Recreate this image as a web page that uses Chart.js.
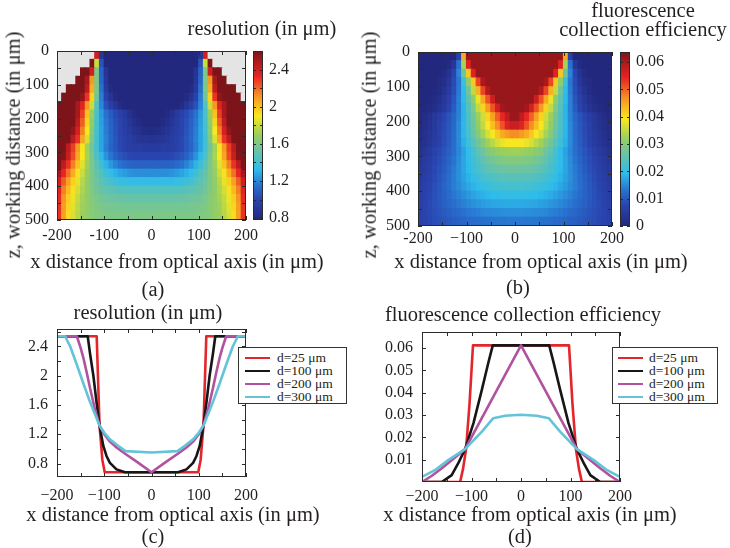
<!DOCTYPE html>
<html>
<head>
<meta charset="utf-8">
<script src="https://cdn.jsdelivr.net/npm/chart.js@4.4.1/dist/chart.umd.min.js"></script>
<style>
  body { margin: 0; background: #fff; }
  #fig { position: relative; width: 730px; height: 548px; overflow: hidden;
         font-family: "Liberation Serif", "DejaVu Serif", serif; color: #231f20; }
  #fig canvas { position: absolute; }
  .t { position: absolute; white-space: nowrap; font-size: 20.5px; line-height: 1;
       transform: translate(-50%, -50%); }
  .rot { transform: translate(-50%, -50%) rotate(-90deg); }
  .legend { position: absolute; border: 1px solid #333; background: #fff; box-sizing: border-box; }
  .legend .row { position: absolute; left: 0; height: 13px; font-size: 13.5px; line-height: 13px; white-space: nowrap; }
  .legend .swatch { position: absolute; top: 6px; height: 0; border-top: 2px solid; }
</style>
</head>
<body>
<div id="fig">
  <canvas id="heatA" width="300" height="260" style="left:0;top:0"></canvas>
  <canvas id="cbarA" width="90" height="260" style="left:253px;top:0"></canvas>
  <canvas id="heatB" width="300" height="260" style="left:365px;top:0"></canvas>
  <canvas id="cbarB" width="100" height="260" style="left:620px;top:0"></canvas>
  <canvas id="lineC" width="300" height="230" style="left:0;top:290px"></canvas>
  <canvas id="lineD" width="300" height="230" style="left:365px;top:290px"></canvas>

  <div class="t" style="left:262px;top:28px">resolution (in μm)</div>
  <div class="t" style="left:643px;top:10px">fluorescence</div>
  <div class="t" style="left:643px;top:29px">collection efficiency</div>
  <div class="t rot" style="left:13px;top:145px">z, working distance (in μm)</div>
  <div class="t rot" style="left:369px;top:145px">z, working distance (in μm)</div>
  <div class="t" style="left:177px;top:261px">x distance from optical axis (in μm)</div>
  <div class="t" style="left:541px;top:261px">x distance from optical axis (in μm)</div>
  <div class="t" style="left:153px;top:289px">(a)</div>
  <div class="t" style="left:518px;top:287px">(b)</div>

  <div class="t" style="left:148px;top:312px">resolution (in μm)</div>
  <div class="t" style="left:523px;top:314px">fluorescence collection efficiency</div>
  <div class="t" style="left:173px;top:514px">x distance from optical axis (in μm)</div>
  <div class="t" style="left:530px;top:514px">x distance from optical axis (in μm)</div>
  <div class="t" style="left:153px;top:536px">(c)</div>
  <div class="t" style="left:520px;top:536px">(d)</div>

  <div id="legendC" class="legend" style="left:238px;top:347px;width:109px;height:57px"></div>
  <div id="legendD" class="legend" style="left:612px;top:347px;width:106px;height:57px"></div>
</div>

<script>
// ---- heat maps: cell centres in x, rows in z (a) and (b)
const heatX = [-195, -185, -175, -165, -155, -145, -135, -125, -115, -105, -95, -85, -75, -65, -55, -45, -35, -25, -15, -5,
               5, 15, 25, 35, 45, 55, 65, 75, 85, 95, 105, 115, 125, 135, 145, 155, 165, 175, 185, 195];
const heatZ = [12.5, 37.5, 62.5, 87.5, 112.5, 137.5, 162.5, 187.5, 212.5, 237.5,
               262.5, 287.5, 312.5, 337.5, 362.5, 387.5, 412.5, 437.5, 462.5, 487.5];

// resolution in µm (null = outside the field, drawn grey)
const resolution = [
  [null, null, null, null, null, null, null, null, 2.4, 0.9, 0.68, 0.68, 0.68, 0.68, 0.68, 0.68, 0.68, 0.68, 0.68, 0.68,
   0.68, 0.68, 0.68, 0.68, 0.68, 0.68, 0.68, 0.68, 0.68, 0.68, 0.9, 2.4, null, null, null, null, null, null, null, null],
  [null, null, null, null, null, null, null, 2.6, 1.8, 1.05, 0.75, 0.68, 0.68, 0.68, 0.68, 0.68, 0.68, 0.68, 0.68, 0.68,
   0.68, 0.68, 0.68, 0.68, 0.68, 0.68, 0.68, 0.68, 0.68, 0.75, 1.05, 1.8, 2.6, null, null, null, null, null, null, null],
  [null, null, null, null, null, 2.6, 2.6, 2.4, 1.6, 1.1, 0.88, 0.74, 0.68, 0.68, 0.68, 0.68, 0.68, 0.68, 0.68, 0.68,
   0.68, 0.68, 0.68, 0.68, 0.68, 0.68, 0.68, 0.68, 0.74, 0.88, 1.1, 1.6, 2.4, 2.6, 2.6, null, null, null, null, null],
  [null, null, null, null, 2.6, 2.6, 2.5, 2.1, 1.6, 1.12, 0.9, 0.78, 0.71, 0.68, 0.68, 0.68, 0.68, 0.68, 0.68, 0.68,
   0.68, 0.68, 0.68, 0.68, 0.68, 0.68, 0.68, 0.71, 0.78, 0.9, 1.12, 1.6, 2.1, 2.5, 2.6, 2.6, null, null, null, null],
  [null, null, 2.6, 2.6, 2.6, 2.6, 2.45, 2.05, 1.6, 1.15, 0.93, 0.8, 0.73, 0.69, 0.68, 0.68, 0.68, 0.68, 0.68, 0.68,
   0.68, 0.68, 0.68, 0.68, 0.68, 0.68, 0.69, 0.73, 0.8, 0.93, 1.15, 1.6, 2.05, 2.45, 2.6, 2.6, 2.6, 2.6, null, null],
  [null, 2.6, 2.6, 2.6, 2.6, 2.55, 2.3, 1.95, 1.55, 1.18, 0.98, 0.88, 0.8, 0.74, 0.7, 0.68, 0.68, 0.68, 0.68, 0.68,
   0.68, 0.68, 0.68, 0.68, 0.68, 0.7, 0.74, 0.8, 0.88, 0.98, 1.18, 1.55, 1.95, 2.3, 2.55, 2.6, 2.6, 2.6, 2.6, null],
  [2.6, 2.6, 2.6, 2.6, 2.5, 2.35, 2.1, 1.8, 1.45, 1.2, 1.05, 0.96, 0.89, 0.82, 0.77, 0.72, 0.69, 0.68, 0.68, 0.68,
   0.68, 0.68, 0.68, 0.69, 0.72, 0.77, 0.82, 0.89, 0.96, 1.05, 1.2, 1.45, 1.8, 2.1, 2.35, 2.5, 2.6, 2.6, 2.6, 2.6],
  [2.6, 2.6, 2.6, 2.6, 2.5, 2.28, 2.0, 1.7, 1.43, 1.25, 1.15, 1.08, 1.02, 0.97, 0.92, 0.86, 0.8, 0.75, 0.71, 0.68,
   0.68, 0.71, 0.75, 0.8, 0.86, 0.92, 0.97, 1.02, 1.08, 1.15, 1.25, 1.43, 1.7, 2.0, 2.28, 2.5, 2.6, 2.6, 2.6, 2.6],
  [2.6, 2.6, 2.6, 2.6, 2.45, 2.22, 1.95, 1.66, 1.42, 1.26, 1.17, 1.1, 1.04, 0.99, 0.94, 0.89, 0.84, 0.8, 0.76, 0.74,
   0.74, 0.76, 0.8, 0.84, 0.89, 0.94, 0.99, 1.04, 1.1, 1.17, 1.26, 1.42, 1.66, 1.95, 2.22, 2.45, 2.6, 2.6, 2.6, 2.6],
  [2.6, 2.6, 2.6, 2.55, 2.38, 2.15, 1.9, 1.63, 1.41, 1.27, 1.18, 1.11, 1.05, 1.0, 0.96, 0.92, 0.88, 0.85, 0.82, 0.81,
   0.81, 0.82, 0.85, 0.88, 0.92, 0.96, 1.0, 1.05, 1.11, 1.18, 1.27, 1.41, 1.63, 1.9, 2.15, 2.38, 2.55, 2.6, 2.6, 2.6],
  [2.6, 2.6, 2.6, 2.45, 2.3, 2.07, 1.83, 1.6, 1.4, 1.27, 1.19, 1.12, 1.06, 1.01, 0.97, 0.94, 0.91, 0.89, 0.88, 0.87,
   0.87, 0.88, 0.89, 0.91, 0.94, 0.97, 1.01, 1.06, 1.12, 1.19, 1.27, 1.4, 1.6, 1.83, 2.07, 2.3, 2.45, 2.6, 2.6, 2.6],
  [2.6, 2.6, 2.45, 2.28, 2.1, 1.91, 1.72, 1.56, 1.4, 1.27, 1.18, 1.11, 1.06, 1.01, 0.97, 0.95, 0.94, 0.94, 0.93, 0.93,
   0.93, 0.93, 0.94, 0.94, 0.95, 0.97, 1.01, 1.06, 1.11, 1.18, 1.27, 1.4, 1.56, 1.72, 1.91, 2.1, 2.28, 2.45, 2.6, 2.6],
  [2.6, 2.58, 2.42, 2.25, 2.07, 1.9, 1.73, 1.58, 1.44, 1.32, 1.23, 1.16, 1.1, 1.06, 1.03, 1.01, 1.0, 1.0, 1.0, 1.0,
   1.0, 1.0, 1.0, 1.0, 1.01, 1.03, 1.06, 1.1, 1.16, 1.23, 1.32, 1.44, 1.58, 1.73, 1.9, 2.07, 2.25, 2.42, 2.58, 2.6],
  [2.6, 2.45, 2.3, 2.15, 2.0, 1.85, 1.71, 1.59, 1.48, 1.39, 1.31, 1.24, 1.19, 1.15, 1.13, 1.11, 1.1, 1.1, 1.1, 1.1,
   1.1, 1.1, 1.1, 1.1, 1.11, 1.13, 1.15, 1.19, 1.24, 1.31, 1.39, 1.48, 1.59, 1.71, 1.85, 2.0, 2.15, 2.3, 2.45, 2.6],
  [2.5, 2.33, 2.18, 2.05, 1.92, 1.8, 1.69, 1.6, 1.52, 1.45, 1.39, 1.34, 1.3, 1.27, 1.25, 1.23, 1.22, 1.22, 1.22, 1.22,
   1.22, 1.22, 1.22, 1.22, 1.23, 1.25, 1.27, 1.3, 1.34, 1.39, 1.45, 1.52, 1.6, 1.69, 1.8, 1.92, 2.05, 2.18, 2.33, 2.5],
  [2.4, 2.22, 2.08, 1.96, 1.86, 1.76, 1.67, 1.6, 1.54, 1.49, 1.45, 1.42, 1.39, 1.37, 1.36, 1.35, 1.35, 1.35, 1.35, 1.35,
   1.35, 1.35, 1.35, 1.35, 1.35, 1.36, 1.37, 1.39, 1.42, 1.45, 1.49, 1.54, 1.6, 1.67, 1.76, 1.86, 1.96, 2.08, 2.22, 2.4],
  [2.35, 2.15, 2.02, 1.92, 1.82, 1.74, 1.67, 1.61, 1.56, 1.52, 1.5, 1.48, 1.47, 1.46, 1.45, 1.45, 1.45, 1.45, 1.45, 1.45,
   1.45, 1.45, 1.45, 1.45, 1.45, 1.45, 1.46, 1.47, 1.48, 1.5, 1.52, 1.56, 1.61, 1.67, 1.74, 1.82, 1.92, 2.02, 2.15, 2.35],
  [2.32, 2.11, 1.97, 1.87, 1.79, 1.72, 1.67, 1.63, 1.59, 1.56, 1.55, 1.54, 1.53, 1.53, 1.52, 1.52, 1.52, 1.52, 1.52, 1.52,
   1.52, 1.52, 1.52, 1.52, 1.52, 1.52, 1.53, 1.53, 1.54, 1.55, 1.56, 1.59, 1.63, 1.67, 1.72, 1.79, 1.87, 1.97, 2.11, 2.32],
  [2.3, 2.09, 1.95, 1.85, 1.77, 1.71, 1.67, 1.64, 1.61, 1.59, 1.58, 1.58, 1.57, 1.57, 1.57, 1.57, 1.57, 1.57, 1.57, 1.57,
   1.57, 1.57, 1.57, 1.57, 1.57, 1.57, 1.57, 1.57, 1.58, 1.58, 1.59, 1.61, 1.64, 1.67, 1.71, 1.77, 1.85, 1.95, 2.09, 2.3],
  [2.3, 2.08, 1.93, 1.83, 1.76, 1.7, 1.67, 1.64, 1.62, 1.61, 1.6, 1.6, 1.6, 1.6, 1.6, 1.6, 1.6, 1.6, 1.6, 1.6,
   1.6, 1.6, 1.6, 1.6, 1.6, 1.6, 1.6, 1.6, 1.6, 1.6, 1.61, 1.62, 1.64, 1.67, 1.7, 1.76, 1.83, 1.93, 2.08, 2.3]
];

// fluorescence collection efficiency
const efficiency = [
  [0, 0, 0, 0, 0, 0, 0, 0, 0.007, 0.045, 0.0615, 0.0615, 0.0615, 0.0615, 0.0615, 0.0615, 0.0615, 0.0615, 0.0615, 0.0615,
   0.0615, 0.0615, 0.0615, 0.0615, 0.0615, 0.0615, 0.0615, 0.0615, 0.0615, 0.0615, 0.045, 0.007, 0, 0, 0, 0, 0, 0, 0, 0],
  [0, 0, 0, 0, 0, 0, 0.001, 0.004, 0.013, 0.033, 0.055, 0.0615, 0.0615, 0.0615, 0.0615, 0.0615, 0.0615, 0.0615, 0.0615, 0.0615,
   0.0615, 0.0615, 0.0615, 0.0615, 0.0615, 0.0615, 0.0615, 0.0615, 0.0615, 0.055, 0.033, 0.013, 0.004, 0.001, 0, 0, 0, 0, 0, 0],
  [0, 0, 0, 0, 0, 0.001, 0.003, 0.0075, 0.0145, 0.027, 0.042, 0.055, 0.0615, 0.0615, 0.0615, 0.0615, 0.0615, 0.0615, 0.0615, 0.0615,
   0.0615, 0.0615, 0.0615, 0.0615, 0.0615, 0.0615, 0.0615, 0.0615, 0.055, 0.042, 0.027, 0.0145, 0.0075, 0.003, 0.001, 0, 0, 0, 0, 0],
  [0, 0, 0, 0, 0.0007, 0.002, 0.0045, 0.0085, 0.0135, 0.021, 0.031, 0.042, 0.052, 0.06, 0.0615, 0.0615, 0.0615, 0.0615, 0.0615, 0.0615,
   0.0615, 0.0615, 0.0615, 0.0615, 0.0615, 0.0615, 0.06, 0.052, 0.042, 0.031, 0.021, 0.0135, 0.0085, 0.0045, 0.002, 0.0007, 0, 0, 0, 0],
  [0, 0, 0, 0.0004, 0.0013, 0.003, 0.0055, 0.009, 0.0138, 0.0195, 0.027, 0.035, 0.044, 0.052, 0.059, 0.0615, 0.0615, 0.0615, 0.0615, 0.0615,
   0.0615, 0.0615, 0.0615, 0.0615, 0.0615, 0.059, 0.052, 0.044, 0.035, 0.027, 0.0195, 0.0138, 0.009, 0.0055, 0.003, 0.0013, 0.0004, 0, 0, 0],
  [0, 0.0001, 0.0004, 0.001, 0.0022, 0.004, 0.0066, 0.0098, 0.0142, 0.019, 0.025, 0.031, 0.038, 0.045, 0.051, 0.057, 0.0615, 0.0615, 0.0615, 0.0615,
   0.0615, 0.0615, 0.0615, 0.0615, 0.057, 0.051, 0.045, 0.038, 0.031, 0.025, 0.019, 0.0142, 0.0098, 0.0066, 0.004, 0.0022, 0.001, 0.0004, 0.0001, 0],
  [0.0001, 0.0004, 0.001, 0.0019, 0.0033, 0.0052, 0.0076, 0.0105, 0.0143, 0.0185, 0.0235, 0.029, 0.035, 0.041, 0.046, 0.051, 0.056, 0.0605, 0.0615, 0.0615,
   0.0615, 0.0615, 0.0605, 0.056, 0.051, 0.046, 0.041, 0.035, 0.029, 0.0235, 0.0185, 0.0143, 0.0105, 0.0076, 0.0052, 0.0033, 0.0019, 0.001, 0.0004, 0.0001],
  [0.0005, 0.0015, 0.0028, 0.0043, 0.006, 0.0078, 0.0097, 0.0118, 0.0145, 0.0185, 0.023, 0.0275, 0.032, 0.036, 0.041, 0.0455, 0.05, 0.054, 0.058, 0.0612,
   0.0612, 0.058, 0.054, 0.05, 0.0455, 0.041, 0.036, 0.032, 0.0275, 0.023, 0.0185, 0.0145, 0.0118, 0.0097, 0.0078, 0.006, 0.0043, 0.0028, 0.0015, 0.0005],
  [0.0009, 0.002, 0.0033, 0.0048, 0.0065, 0.0082, 0.0101, 0.0122, 0.015, 0.0187, 0.0228, 0.027, 0.031, 0.035, 0.039, 0.043, 0.047, 0.051, 0.055, 0.057,
   0.057, 0.055, 0.051, 0.047, 0.043, 0.039, 0.035, 0.031, 0.027, 0.0228, 0.0187, 0.015, 0.0122, 0.0101, 0.0082, 0.0065, 0.0048, 0.0033, 0.002, 0.0009],
  [0.0013, 0.0024, 0.0037, 0.0052, 0.0068, 0.0085, 0.0103, 0.0124, 0.0152, 0.0186, 0.0222, 0.026, 0.0295, 0.033, 0.0365, 0.039, 0.042, 0.0445, 0.046, 0.047,
   0.047, 0.046, 0.0445, 0.042, 0.039, 0.0365, 0.033, 0.0295, 0.026, 0.0222, 0.0186, 0.0152, 0.0124, 0.0103, 0.0085, 0.0068, 0.0052, 0.0037, 0.0024, 0.0013],
  [0.0018, 0.0029, 0.0041, 0.0056, 0.0071, 0.0088, 0.0106, 0.0126, 0.0152, 0.0181, 0.021, 0.024, 0.027, 0.0298, 0.0325, 0.0345, 0.0365, 0.038, 0.0388, 0.039,
   0.039, 0.0388, 0.038, 0.0365, 0.0345, 0.0325, 0.0298, 0.027, 0.024, 0.021, 0.0181, 0.0152, 0.0126, 0.0106, 0.0088, 0.0071, 0.0056, 0.0041, 0.0029, 0.0018],
  [0.0028, 0.004, 0.0053, 0.0067, 0.0081, 0.0096, 0.0111, 0.0128, 0.0148, 0.017, 0.0194, 0.022, 0.0245, 0.027, 0.0292, 0.0305, 0.0314, 0.032, 0.0323, 0.0325,
   0.0325, 0.0323, 0.032, 0.0314, 0.0305, 0.0292, 0.027, 0.0245, 0.022, 0.0194, 0.017, 0.0148, 0.0128, 0.0111, 0.0096, 0.0081, 0.0067, 0.0053, 0.004, 0.0028],
  [0.0037, 0.0049, 0.0061, 0.0074, 0.0087, 0.0101, 0.0116, 0.0133, 0.0152, 0.0172, 0.0193, 0.0214, 0.0234, 0.0252, 0.0267, 0.0278, 0.0286, 0.0291, 0.0294, 0.0295,
   0.0295, 0.0294, 0.0291, 0.0286, 0.0278, 0.0267, 0.0252, 0.0234, 0.0214, 0.0193, 0.0172, 0.0152, 0.0133, 0.0116, 0.0101, 0.0087, 0.0074, 0.0061, 0.0049, 0.0037],
  [0.0043, 0.0054, 0.0066, 0.0079, 0.0092, 0.0106, 0.0121, 0.0137, 0.0154, 0.0172, 0.019, 0.0207, 0.0222, 0.0236, 0.0247, 0.0255, 0.0261, 0.0265, 0.0267, 0.0268,
   0.0268, 0.0267, 0.0265, 0.0261, 0.0255, 0.0247, 0.0236, 0.0222, 0.0207, 0.019, 0.0172, 0.0154, 0.0137, 0.0121, 0.0106, 0.0092, 0.0079, 0.0066, 0.0054, 0.0043],
  [0.0048, 0.0059, 0.0071, 0.0084, 0.0097, 0.0111, 0.0125, 0.014, 0.0155, 0.017, 0.0184, 0.0197, 0.0209, 0.0219, 0.0227, 0.0233, 0.0237, 0.024, 0.0242, 0.0243,
   0.0243, 0.0242, 0.024, 0.0237, 0.0233, 0.0227, 0.0219, 0.0209, 0.0197, 0.0184, 0.017, 0.0155, 0.014, 0.0125, 0.0111, 0.0097, 0.0084, 0.0071, 0.0059, 0.0048],
  [0.0053, 0.0065, 0.0077, 0.0089, 0.0101, 0.0114, 0.0127, 0.014, 0.0152, 0.0164, 0.0175, 0.0185, 0.0194, 0.0202, 0.0208, 0.0213, 0.0216, 0.0219, 0.022, 0.0221,
   0.0221, 0.022, 0.0219, 0.0216, 0.0213, 0.0208, 0.0202, 0.0194, 0.0185, 0.0175, 0.0164, 0.0152, 0.014, 0.0127, 0.0114, 0.0101, 0.0089, 0.0077, 0.0065, 0.0053],
  [0.0058, 0.0069, 0.008, 0.0091, 0.0102, 0.0113, 0.0124, 0.0134, 0.0144, 0.0153, 0.0162, 0.017, 0.0177, 0.0183, 0.0188, 0.0192, 0.0195, 0.0197, 0.0198, 0.0198,
   0.0198, 0.0198, 0.0197, 0.0195, 0.0192, 0.0188, 0.0183, 0.0177, 0.017, 0.0162, 0.0153, 0.0144, 0.0134, 0.0124, 0.0113, 0.0102, 0.0091, 0.008, 0.0069, 0.0058],
  [0.0062, 0.0072, 0.0082, 0.0092, 0.0101, 0.011, 0.0119, 0.0127, 0.0135, 0.0142, 0.0149, 0.0155, 0.016, 0.0165, 0.0169, 0.0172, 0.0174, 0.0175, 0.0176, 0.0176,
   0.0176, 0.0176, 0.0175, 0.0174, 0.0172, 0.0169, 0.0165, 0.016, 0.0155, 0.0149, 0.0142, 0.0135, 0.0127, 0.0119, 0.011, 0.0101, 0.0092, 0.0082, 0.0072, 0.0062],
  [0.0064, 0.0073, 0.0081, 0.0089, 0.0097, 0.0104, 0.0111, 0.0118, 0.0124, 0.013, 0.0135, 0.0139, 0.0143, 0.0147, 0.015, 0.0152, 0.0153, 0.0154, 0.0155, 0.0155,
   0.0155, 0.0155, 0.0154, 0.0153, 0.0152, 0.015, 0.0147, 0.0143, 0.0139, 0.0135, 0.013, 0.0124, 0.0118, 0.0111, 0.0104, 0.0097, 0.0089, 0.0081, 0.0073, 0.0064],
  [0.0065, 0.0072, 0.0079, 0.0086, 0.0092, 0.0098, 0.0103, 0.0108, 0.0113, 0.0117, 0.0121, 0.0124, 0.0127, 0.0129, 0.0131, 0.0133, 0.0134, 0.0134, 0.0135, 0.0135,
   0.0135, 0.0135, 0.0134, 0.0134, 0.0133, 0.0131, 0.0129, 0.0127, 0.0124, 0.0121, 0.0117, 0.0113, 0.0108, 0.0103, 0.0098, 0.0092, 0.0086, 0.0079, 0.0072, 0.0065]
];

const resRange = [0.78, 2.6];
const effRange = [0, 0.0637];

// ---- profiles (c) resolution, (d) efficiency
const seriesLabels = ["d=25 μm", "d=100 μm", "d=200 μm", "d=300 μm"];

const resX25 = [-200, -116, -110, -104, -99, 99, 104, 110, 116, 200];
const resY25 = [2.54, 2.54, 1.32, 0.85, 0.68, 0.68, 0.85, 1.32, 2.54, 2.54];
const resX100 = [-200, -135, -130, -123, -116, -110, -102, -95, -88, -74, -56, 56, 74, 88, 95, 102, 110, 116, 123, 130, 135, 200];
const resY100 = [2.54, 2.54, 2.3, 2.0, 1.62, 1.32, 1.04, 0.9, 0.81, 0.72, 0.68, 0.68, 0.72, 0.81, 0.9, 1.04, 1.32, 1.62, 2.0, 2.3, 2.54, 2.54];
const resX200 = [-200, -158, -150, -144, -137, -130, -120, -110, -100, -88, -74, -55, -30, 0, 30, 55, 74, 88, 100, 110, 120, 130, 137, 144, 150, 158, 200];
const resY200 = [2.54, 2.54, 2.38, 2.24, 2.04, 1.83, 1.55, 1.32, 1.2, 1.1, 1.02, 0.93, 0.82, 0.68, 0.82, 0.93, 1.02, 1.1, 1.2, 1.32, 1.55, 1.83, 2.04, 2.24, 2.38, 2.54, 2.54];
const resX300 = [-200, -183, -172, -158, -144, -130, -120, -110, -100, -88, -70, -55, 0, 55, 70, 88, 100, 110, 120, 130, 144, 158, 172, 183, 200];
const resY300 = [2.54, 2.54, 2.4, 2.15, 1.89, 1.64, 1.48, 1.32, 1.22, 1.13, 1.04, 0.97, 0.95, 0.97, 1.04, 1.13, 1.22, 1.32, 1.48, 1.64, 1.89, 2.15, 2.4, 2.54, 2.54];

const effX25 = [-200, -123, -117, -111, -104, -97, 97, 104, 111, 117, 123, 200];
const effY25 = [0, 0, 0.006, 0.0147, 0.035, 0.0612, 0.0612, 0.035, 0.0147, 0.006, 0, 0];
const effX100 = [-200, -160, -140, -127, -113, -96, -79, -66, -57, 57, 66, 79, 96, 113, 127, 140, 160, 200];
const effY100 = [0, 0, 0.0031, 0.0083, 0.0147, 0.0264, 0.0414, 0.0534, 0.0612, 0.0612, 0.0534, 0.0414, 0.0264, 0.0147, 0.0083, 0.0031, 0, 0];
const effX200 = [-200, -180, -160, -140, -113, -80, -55, 0, 55, 80, 113, 140, 160, 180, 200];
const effY200 = [0, 0.0028, 0.0062, 0.0098, 0.0147, 0.0283, 0.0386, 0.0612, 0.0386, 0.0283, 0.0147, 0.0098, 0.0062, 0.0028, 0];
const effX300 = [-200, -174, -147, -113, -79, -56, -32, 0, 32, 56, 79, 113, 147, 174, 200];
const effY300 = [0.0023, 0.0053, 0.0098, 0.0147, 0.0226, 0.0286, 0.0297, 0.0301, 0.0297, 0.0286, 0.0226, 0.0147, 0.0098, 0.0053, 0.0023];

// ---- ticks (labelled values and unlabelled minor marks)
const xTicks = [-200, -150, -100, -50, 0, 50, 100, 150, 200];
const xLabels = [-200, -100, 0, 100, 200];
const zTicks = [0, 50, 100, 150, 200, 250, 300, 350, 400, 450, 500];
const zLabels = [0, 100, 200, 300, 400, 500];
const resTicks = [0.8, 1.0, 1.2, 1.4, 1.6, 1.8, 2.0, 2.2, 2.4, 2.6];
const resLabels = [0.8, 1.2, 1.6, 2, 2.4];
const effTicks = [0, 0.01, 0.02, 0.03, 0.04, 0.05, 0.06];
const effLineTicks = [0.01, 0.02, 0.03, 0.04, 0.05, 0.06];

const lineColors = ["#e3262c", "#161616", "#b1529e", "#63c3d7"];

// jet-like colormap, toned to the printed colour bars
const jet = [
  [0, [34, 40, 125]], [0.12, [42, 68, 175]], [0.2, [40, 110, 205]],
  [0.3, [45, 188, 236]], [0.42, [110, 196, 160]], [0.5, [150, 206, 95]],
  [0.615, [250, 232, 30]], [0.73, [246, 150, 35]], [0.85, [232, 36, 36]],
  [0.93, [180, 26, 30]], [1, [125, 20, 25]]
];

Chart.defaults.font.family = '"Liberation Serif", serif';
Chart.defaults.font.size = 16;
Chart.defaults.color = "#231f20";

function jetColor(v, [lo, hi]) {
  if (v === null) return "#e4e4e4";
  const t = Math.min(1, Math.max(0, (v - lo) / (hi - lo)));
  for (let i = 1; i < jet.length; i++) {
    if (t <= jet[i][0]) {
      const [t0, c0] = jet[i - 1], [t1, c1] = jet[i];
      const f = (t - t0) / (t1 - t0);
      const c = c0.map((a, k) => Math.round(a + (c1[k] - a) * f));
      return `rgb(${c[0]},${c[1]},${c[2]})`;
    }
  }
  return "rgb(125,20,25)";
}

const minus = (v) => String(v).replace("-", "\u2212");

function fixedTicks(values, shown, fmt, padding) {
  return {
    afterBuildTicks: (s) => { s.ticks = values.map((v) => ({ value: v })); },
    ticks: {
      autoSkip: false, maxRotation: 0, padding,
      callback: (v) => (shown.includes(v) ? fmt(v) : "")
    },
    grid: { display: false, drawTicks: false },
    border: { display: false }
  };
}

// box round the plot area with inward tick marks
const framePlugin = {
  id: "frame",
  afterDatasetsDraw(chart, args, opts) {
    const { ctx, chartArea: a, scales } = chart;
    const len = opts.len || 4;
    ctx.save();
    ctx.strokeStyle = "#2a2a2a";
    ctx.lineWidth = 1;
    ctx.beginPath();
    if (opts.x !== false) {
      scales.x.ticks.forEach((t) => {
        const p = Math.round(scales.x.getPixelForValue(t.value)) + 0.5;
        ctx.moveTo(p, a.bottom); ctx.lineTo(p, a.bottom - len);
        ctx.moveTo(p, a.top); ctx.lineTo(p, a.top + len);
      });
    }
    scales.y.ticks.forEach((t) => {
      const p = Math.round(scales.y.getPixelForValue(t.value)) + 0.5;
      ctx.moveTo(a.left, p); ctx.lineTo(a.left + len, p);
      ctx.moveTo(a.right, p); ctx.lineTo(a.right - len, p);
    });
    ctx.stroke();
    ctx.strokeRect(Math.round(a.left) + 0.5, Math.round(a.top) + 0.5,
                   Math.round(a.width) - 1, Math.round(a.height) - 1);
    ctx.restore();
  }
};

const baseOptions = {
  responsive: false,
  animation: false,
  devicePixelRatio: 1,
  events: [],
  plugins: { legend: { display: false }, tooltip: { enabled: false } }
};

function heatMap(id, grid, range, box, xFmt) {
  const zHalf = (heatZ[1] - heatZ[0]) / 2;
  const cells = [];
  heatZ.forEach((z, r) => heatX.forEach((x, c) => {
    cells.push({ x: x, y: [z - zHalf, z + zHalf], v: grid[r][c] });
  }));
  return new Chart(document.getElementById(id), {
    type: "bar",
    data: {
      datasets: [{
        data: cells,
        backgroundColor: (c) => jetColor(c.raw.v, range),
        borderWidth: 0,
        barPercentage: 1,
        categoryPercentage: 1,
        inflateAmount: 0.6
      }]
    },
    options: {
      ...baseOptions,
      layout: { padding: { top: box.top, right: box.right, left: 0, bottom: 0 } },
      plugins: { ...baseOptions.plugins, frame: { len: 4 } },
      scales: {
        x: {
          type: "linear", min: -200, max: 200, offset: false,
          ...fixedTicks(xTicks, xLabels, xFmt, box.xPad),
          afterFit: (s) => { s.height = box.xAxis; }
        },
        y: {
          type: "linear", min: 0, max: 500, reverse: true,
          ...fixedTicks(zTicks, zLabels, String, 8),
          afterFit: (s) => { s.width = box.yAxis; }
        }
      }
    },
    plugins: [framePlugin]
  });
}

function colorBar(id, range, ticks, labels, box) {
  return new Chart(document.getElementById(id), {
    type: "bar",
    data: {
      labels: [""],
      datasets: [{
        data: [range],
        backgroundColor: (c) => {
          const a = c.chart.chartArea;
          if (!a) return "#888";
          const g = c.chart.ctx.createLinearGradient(0, a.bottom, 0, a.top);
          jet.forEach(([t, rgb]) => g.addColorStop(t, `rgb(${rgb.join(",")})`));
          return g;
        },
        borderWidth: 0,
        barPercentage: 1,
        categoryPercentage: 1
      }]
    },
    options: {
      ...baseOptions,
      layout: { padding: { top: box.top, bottom: box.bottom, left: 0, right: 0 } },
      plugins: { ...baseOptions.plugins, frame: { x: false, len: 3 } },
      scales: {
        x: { display: false },
        y: {
          position: "right", min: range[0], max: range[1],
          ...fixedTicks(ticks, labels, String, 6),
          afterFit: (s) => { s.width = box.yAxis; }
        }
      }
    },
    plugins: [framePlugin]
  });
}

function profile(id, xs, ys, yRange, yTicks, yLabels, box) {
  // later series are drawn over earlier ones, as in the original figure
  const datasets = xs.map((xv, i) => ({
    label: seriesLabels[i],
    data: xv.map((x, k) => ({ x: x, y: ys[i][k] })),
    borderColor: lineColors[i],
    borderWidth: 2.6,
    borderJoinStyle: "round",
    pointRadius: 0,
    tension: 0,
    fill: false,
    order: xs.length - i
  }));
  return new Chart(document.getElementById(id), {
    type: "line",
    data: { datasets },
    options: {
      ...baseOptions,
      layout: { padding: { top: box.top, right: box.right, left: 0, bottom: 0 } },
      plugins: { ...baseOptions.plugins, frame: { len: 4 } },
      scales: {
        x: {
          type: "linear", min: -200, max: 200,
          ...fixedTicks(xTicks, xLabels, minus, box.xPad),
          afterFit: (s) => { s.height = box.xAxis; }
        },
        y: {
          type: "linear", min: yRange[0], max: yRange[1],
          ...fixedTicks(yTicks, yLabels, String, 9),
          afterFit: (s) => { s.width = box.yAxis; }
        }
      }
    },
    plugins: [framePlugin]
  });
}

function htmlLegend(el, chart, lineLeft, textLeft) {
  chart.data.datasets.forEach((ds, i) => {
    const row = document.createElement("div");
    row.className = "row";
    row.style.top = (3 + i * 13) + "px";
    row.style.width = "100%";
    const sw = document.createElement("span");
    sw.className = "swatch";
    sw.style.left = lineLeft + "px";
    sw.style.width = "25px";
    sw.style.borderTopColor = ds.borderColor;
    const tx = document.createElement("span");
    tx.style.position = "absolute";
    tx.style.left = textLeft + "px";
    tx.textContent = ds.label;
    row.appendChild(sw);
    row.appendChild(tx);
    el.appendChild(row);
  });
}

heatMap("heatA", resolution, resRange, { top: 51, right: 54, xAxis: 40, yAxis: 57, xPad: 6 }, String);
colorBar("cbarA", resRange, resTicks, resLabels, { top: 51, bottom: 40, yAxis: 80 });
heatMap("heatB", efficiency, effRange, { top: 52, right: 53, xAxis: 34, yAxis: 53, xPad: 3 },
        (v) => (v === -100 ? "\u2212100" : String(v)));
colorBar("cbarB", effRange, effTicks, effTicks, { top: 52, bottom: 34, yAxis: 90 });

const chartC = profile("lineC", [resX25, resX100, resX200, resX300], [resY25, resY100, resY200, resY300],
                       [0.616, 2.639], resTicks, resLabels, { top: 39, right: 54, xAxis: 43, yAxis: 57, xPad: 9 });
const chartD = profile("lineD", [effX25, effX100, effX200, effX300], [effY25, effY100, effY200, effY300],
                       [0, 0.0672], effLineTicks, effLineTicks, { top: 42, right: 45, xAxis: 38, yAxis: 57, xPad: 5 });

htmlLegend(document.getElementById("legendC"), chartC, 6, 38);
htmlLegend(document.getElementById("legendD"), chartD, 5, 36);
</script>
</body>
</html>
